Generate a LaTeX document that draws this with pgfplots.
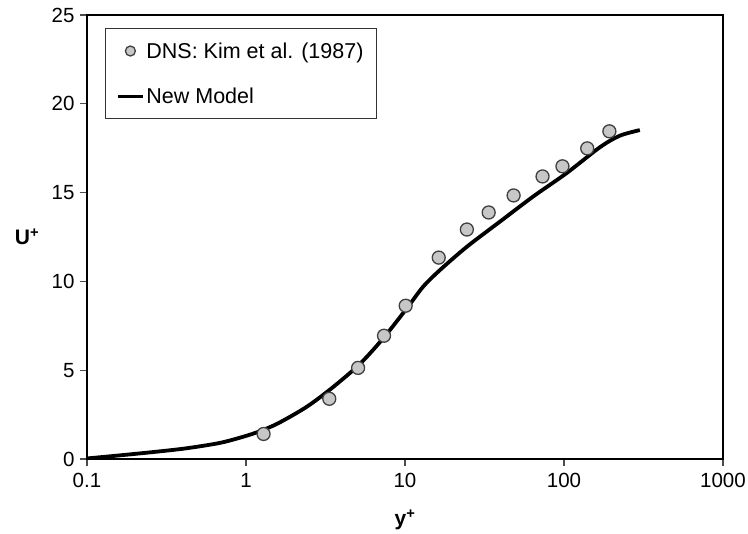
\documentclass[border=0pt]{standalone}
\usepackage{fontspec}
\setmainfont{Liberation Sans}
\usepackage{pgfplots}
\pgfplotsset{compat=1.18}
\begin{document}
\begin{tikzpicture}
\begin{axis}[
  scale only axis,
  width=636pt, height=444pt,
  xmode=log, log basis x=10,
  xmin=0.1, xmax=1000,
  ymin=0, ymax=25,
  xtick={0.1,1,10,100,1000},
  xticklabels={0.1,1,10,100,1000},
  ytick={0,5,10,15,20,25},
  minor xtick={}, minor ytick={},
  xtick pos=bottom, ytick pos=left,
  tick align=outside,
  major tick length=7pt,
  tick style={line width=1.2pt, black!70},
  axis line style={line width=2.2pt},
  /pgf/number format/assume math mode=true,
  tick label style={font=\fontsize{20.5}{24}\selectfont},
  xticklabel style={yshift=-4pt},
  yticklabel style={xshift=-2pt},
  xlabel={\textbf{y\textsuperscript{+}}},
  ylabel={\textbf{U\textsuperscript{+}}},
  label style={font=\fontsize{21}{25}\selectfont},
  xlabel style={at={(axis description cs:0.5,0)}, anchor=center, yshift=-61pt},
  ylabel style={rotate=-90, at={(axis description cs:0,0.5)}, anchor=center, xshift=-60pt},
  legend style={at={(axis description cs:0.028,0.971)}, anchor=north west,
    draw=black!80, line width=1.2pt, inner xsep=11pt, inner ysep=12pt,
    row sep=24pt, font=\fontsize{21.5}{25}\selectfont},
  legend cell align=left,
]
\addplot[only marks, mark=*, mark size=6.5pt,
  mark options={fill=black!22, draw=black!75, line width=1.3pt},
  legend image code/.code={\draw[fill=black!22, draw=black!75, line width=1.3pt] (12.5pt,0pt) circle (5pt);}]
coordinates {
(1.29,1.41) (3.34,3.39) (5.07,5.13) (7.38,6.94) (10.1,8.63) (16.3,11.34)
(24.5,12.92) (33.6,13.88) (48.2,14.84) (73.3,15.91) (97.8,16.48) (140,17.49) (193,18.45)
};
\addlegendentry{DNS: Kim et al. (1987)}
\addplot[black, line width=3.8pt, smooth,
  legend image code/.code={\draw[line width=3pt] (0pt,0pt) -- (25pt,0pt);}]
coordinates {
(0.1,0.03) (0.159,0.2) (0.26,0.39) (0.42,0.6) (0.68,0.9) (0.95,1.24) (1.21,1.55)
(1.6,2.02) (2.42,2.95) (3.53,4.05) (5.2,5.35) (7.3,6.8) (10.3,8.5) (13,9.7) (16.6,10.64)
(24.5,11.95) (39.5,13.36) (63.8,14.77) (104,16.1) (168,17.55) (224,18.2) (300,18.52)
};
\addlegendentry{New Model}
\end{axis}
\pgfresetboundingbox
\path[use as bounding box] ([shift={(-87pt,-75pt)}]current axis.south west) rectangle ([shift={(25pt,15pt)}]current axis.north east);
\end{tikzpicture}
\end{document}
